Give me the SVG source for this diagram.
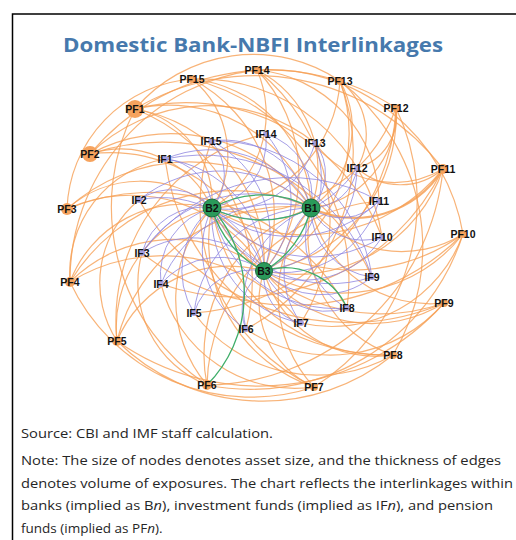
<svg xmlns="http://www.w3.org/2000/svg" width="516" height="540" viewBox="0 0 516 540">
<style>
.o{fill:none;stroke:#f6a056;stroke-width:1.2;stroke-opacity:.8}
.ot{fill:none;stroke:#f6a056;stroke-width:2.2;stroke-opacity:.85}
.p{fill:none;stroke:#8f86e0;stroke-width:1;stroke-opacity:.8}
.g{fill:none;stroke:#3fae6a;stroke-width:1.3}
.pf{fill:#f6a35e}
.if{fill:#a7a0e0}
.b{fill:#2a9a5a;stroke:#1d6e3e;stroke-width:1}
.lb{font-family:"Liberation Sans",Arial,sans-serif;font-weight:bold;font-size:10.5px;fill:#111;text-anchor:middle}
.ft{font-family:"Open Sans","Noto Sans",sans-serif;font-size:13.5px;fill:#262626}
</style>
<rect width="516" height="540" fill="#fff"/>
<path d="M12.5 540V14H516" fill="none" stroke="#000" stroke-width="1.5"/>
<text x="63" y="51.5" font-family="'Open Sans','Noto Sans',sans-serif" font-weight="700" font-size="20" fill="#4679ad" textLength="380" lengthAdjust="spacingAndGlyphs">Domestic Bank-NBFI Interlinkages</text>
<g id="edges">
<g id="orange-edges">
<path class="o" d="M135 109A150 150 0 0 1 311 208"/>
<path class="o" d="M135 109A95 95 0 0 1 212 208"/>
<path class="o" d="M135 109A155 155 0 0 1 264 271"/>
<path class="o" d="M135 109A210 210 0 0 1 382 237"/>
<path class="o" d="M135 109A155 155 0 0 1 340 81"/>
<path class="o" d="M135 109A185 185 0 0 1 246 329"/>
<path class="o" d="M135 109A235 235 0 0 1 443 169"/>
<path class="o" d="M90 154A100 100 0 0 1 212 208"/>
<path class="o" d="M90 154A170 170 0 0 1 311 208"/>
<path class="o" d="M90 154A158 158 0 0 1 264 271"/>
<path class="o" d="M90 154A230 230 0 0 1 372 277"/>
<path class="o" d="M90 154A232 232 0 0 1 396 108"/>
<path class="o" d="M90 154A170 170 0 0 1 315 143"/>
<path class="o" d="M67 209A110 110 0 0 1 212 208"/>
<path class="o" d="M67 209A183 183 0 0 1 311 208"/>
<path class="o" d="M67 209A155 155 0 0 1 264 271"/>
<path class="o" d="M67 209A223 223 0 0 1 347 308"/>
<path class="o" d="M67 209A135 135 0 0 1 192 79"/>
<path class="o" d="M70 282A120 120 0 0 1 212 208"/>
<path class="o" d="M70 282A146 146 0 0 1 264 271"/>
<path class="o" d="M70 282A189 189 0 0 1 311 208"/>
<path class="o" d="M70 282A116 116 0 0 1 165 159"/>
<path class="o" d="M70 282A212 212 0 0 1 257 70"/>
<path class="o" d="M70 282A176 176 0 0 1 301 323"/>
<path class="o" d="M117 341A122 122 0 0 1 212 208"/>
<path class="o" d="M117 341A122 122 0 0 1 264 271"/>
<path class="o" d="M117 341A176 176 0 0 1 311 208"/>
<path class="o" d="M117 341A107 107 0 0 1 139 200"/>
<path class="o" d="M117 341A191 191 0 0 1 266 134"/>
<path class="o" d="M444 303A247 247 0 0 1 117 341"/>
<path class="o" d="M207 385A133 133 0 0 1 212 208"/>
<path class="o" d="M207 385A154 154 0 0 1 311 208"/>
<path class="o" d="M207 385A110 110 0 0 1 142 253"/>
<path class="o" d="M207 385A214 214 0 0 1 135 109"/>
<path class="o" d="M207 385A189 189 0 0 1 379 201"/>
<path class="o" d="M314 387A95 95 0 0 1 264 271"/>
<path class="o" d="M314 387A155 155 0 0 1 212 208"/>
<path class="o" d="M314 387A134 134 0 0 1 311 208"/>
<path class="o" d="M314 387A138 138 0 0 1 161 284"/>
<path class="o" d="M314 387A200 200 0 0 1 70 282"/>
<path class="o" d="M314 387A200 200 0 0 1 211 141"/>
<path class="o" d="M393 355A116 116 0 0 1 264 271"/>
<path class="o" d="M393 355A126 126 0 0 1 311 208"/>
<path class="o" d="M393 355A175 175 0 0 1 212 208"/>
<path class="o" d="M393 355A153 153 0 0 1 194 313"/>
<path class="o" d="M393 355A207 207 0 0 1 117 341"/>
<path class="o" d="M393 355A225 225 0 0 1 165 159"/>
<path class="o" d="M444 303A122 122 0 0 1 311 208"/>
<path class="o" d="M444 303A137 137 0 0 1 264 271"/>
<path class="o" d="M444 303A188 188 0 0 1 212 208"/>
<path class="o" d="M444 303A150 150 0 0 1 246 329"/>
<path class="o" d="M444 303A241 241 0 0 1 139 200"/>
<path class="o" d="M463 234A116 116 0 0 1 311 208"/>
<path class="o" d="M463 234A152 152 0 0 1 264 271"/>
<path class="o" d="M463 234A189 189 0 0 1 212 208"/>
<path class="o" d="M463 234A139 139 0 0 1 301 323"/>
<path class="o" d="M463 234A241 241 0 0 1 142 253"/>
<path class="o" d="M463 234A223 223 0 0 1 207 385"/>
<path class="ot" d="M443 169A104 104 0 0 1 311 208"/>
<path class="o" d="M443 169A155 155 0 0 1 264 271"/>
<path class="o" d="M443 169A176 176 0 0 1 212 208"/>
<path class="o" d="M443 169A65 65 0 0 1 357 168"/>
<path class="o" d="M443 169A98 98 0 0 1 315 143"/>
<path class="o" d="M443 169A240 240 0 0 1 207 385"/>
<path class="o" d="M443 169A229 229 0 0 1 161 284"/>
<path class="o" d="M396 108A98 98 0 0 1 311 208"/>
<path class="o" d="M396 108A157 157 0 0 1 264 271"/>
<path class="o" d="M396 108A157 157 0 0 1 212 208"/>
<path class="o" d="M396 108A54 54 0 0 1 357 168"/>
<path class="o" d="M396 108A216 216 0 0 1 194 313"/>
<path class="o" d="M396 108A218 218 0 0 1 314 387"/>
<path class="o" d="M340 81A98 98 0 0 1 311 208"/>
<path class="o" d="M340 81A135 135 0 0 1 212 208"/>
<path class="o" d="M340 81A154 154 0 0 1 264 271"/>
<path class="o" d="M340 81A67 67 0 0 1 357 168"/>
<path class="o" d="M340 81A199 199 0 0 1 246 329"/>
<path class="o" d="M340 81A209 209 0 0 1 393 355"/>
<path class="o" d="M257 70A111 111 0 0 1 311 208"/>
<path class="o" d="M257 70A109 109 0 0 1 212 208"/>
<path class="o" d="M257 70A151 151 0 0 1 264 271"/>
<path class="o" d="M257 70A134 134 0 0 1 379 201"/>
<path class="o" d="M257 70A193 193 0 0 1 301 323"/>
<path class="o" d="M257 70A197 197 0 0 1 463 234"/>
<path class="o" d="M192 79A98 98 0 0 1 212 208"/>
<path class="o" d="M192 79A132 132 0 0 1 311 208"/>
<path class="o" d="M192 79A154 154 0 0 1 264 271"/>
<path class="o" d="M192 79A185 185 0 0 1 382 237"/>
<path class="o" d="M192 79A207 207 0 0 1 347 308"/>
</g>
<g id="purple-edges">
<path class="p" d="M165 159A51 51 0 0 1 212 208"/>
<path class="p" d="M165 159A116 116 0 0 1 311 208"/>
<path class="p" d="M165 159A112 112 0 0 1 264 271"/>
<path class="p" d="M165 159A179 179 0 0 1 372 277"/>
<path class="p" d="M139 200A55 55 0 0 1 212 208"/>
<path class="p" d="M139 200A129 129 0 0 1 311 208"/>
<path class="p" d="M139 200A108 108 0 0 1 264 271"/>
<path class="p" d="M142 253A62 62 0 0 1 212 208"/>
<path class="p" d="M142 253A93 93 0 0 1 264 271"/>
<path class="p" d="M142 253A131 131 0 0 1 311 208"/>
<path class="p" d="M142 253A182 182 0 0 1 379 201"/>
<path class="p" d="M161 284A69 69 0 0 1 212 208"/>
<path class="p" d="M161 284A78 78 0 0 1 264 271"/>
<path class="p" d="M161 284A126 126 0 0 1 311 208"/>
<path class="p" d="M194 313A80 80 0 0 1 212 208"/>
<path class="p" d="M194 313A61 61 0 0 1 264 271"/>
<path class="p" d="M194 313A118 118 0 0 1 311 208"/>
<path class="p" d="M246 329A46 46 0 0 1 264 271"/>
<path class="p" d="M246 329A94 94 0 0 1 212 208"/>
<path class="p" d="M246 329A103 103 0 0 1 311 208"/>
<path class="p" d="M301 323A48 48 0 0 1 264 271"/>
<path class="p" d="M301 323A87 87 0 0 1 311 208"/>
<path class="p" d="M301 323A109 109 0 0 1 212 208"/>
<path class="p" d="M347 308A68 68 0 0 1 264 271"/>
<path class="p" d="M347 308A80 80 0 0 1 311 208"/>
<path class="p" d="M347 308A126 126 0 0 1 212 208"/>
<path class="p" d="M372 277A69 69 0 0 1 311 208"/>
<path class="p" d="M372 277A81 81 0 0 1 264 271"/>
<path class="p" d="M372 277A131 131 0 0 1 212 208"/>
<path class="p" d="M382 237A58 58 0 0 1 311 208"/>
<path class="p" d="M382 237A92 92 0 0 1 264 271"/>
<path class="p" d="M382 237A129 129 0 0 1 212 208"/>
<path class="p" d="M379 201A51 51 0 0 1 311 208"/>
<path class="p" d="M379 201A101 101 0 0 1 264 271"/>
<path class="p" d="M379 201A125 125 0 0 1 212 208"/>
<path class="p" d="M357 168A46 46 0 0 1 311 208"/>
<path class="p" d="M357 168A113 113 0 0 1 212 208"/>
<path class="p" d="M357 168A104 104 0 0 1 264 271"/>
<path class="p" d="M315 143A49 49 0 0 1 311 208"/>
<path class="p" d="M315 143A91 91 0 0 1 212 208"/>
<path class="p" d="M315 143A103 103 0 0 1 264 271"/>
<path class="p" d="M266 134A69 69 0 0 1 212 208"/>
<path class="p" d="M266 134A65 65 0 0 1 311 208"/>
<path class="p" d="M266 134A103 103 0 0 1 264 271"/>
<path class="p" d="M211 141A50 50 0 0 1 212 208"/>
<path class="p" d="M211 141A90 90 0 0 1 311 208"/>
<path class="p" d="M211 141A105 105 0 0 1 264 271"/>
<path class="p" d="M211 141A158 158 0 0 1 372 277"/>
</g>
<g id="green-edges">
<path class="g" d="M212 208A100 100 0 0 1 311 208"/>
<path class="g" d="M311 208A108 108 0 0 1 212 208"/>
<path class="g" d="M212 208A100 100 0 0 0 264 271"/>
<path class="g" d="M311 208A100 100 0 0 1 264 271"/>
<path class="g" d="M264 271A68 68 0 0 1 347 308"/>
<path class="g" d="M207 385A130 130 0 0 0 212 208"/>
</g>
</g>
<g id="PF1"><circle class="pf" cx="135" cy="109" r="9"/><text class="lb" x="135" y="112.5">PF1</text></g>
<g id="PF2"><circle class="pf" cx="90" cy="154" r="8"/><text class="lb" x="90" y="157.5">PF2</text></g>
<g id="PF3"><circle class="pf" cx="67" cy="209" r="6"/><text class="lb" x="67" y="212.5">PF3</text></g>
<g id="PF4"><circle class="pf" cx="70" cy="282" r="5"/><text class="lb" x="70" y="285.5">PF4</text></g>
<g id="PF5"><circle class="pf" cx="117" cy="341" r="5"/><text class="lb" x="117" y="344.5">PF5</text></g>
<g id="PF6"><circle class="pf" cx="207" cy="385" r="5"/><text class="lb" x="207" y="388.5">PF6</text></g>
<g id="PF7"><circle class="pf" cx="314" cy="387" r="4"/><text class="lb" x="314" y="390.5">PF7</text></g>
<g id="PF8"><circle class="pf" cx="393" cy="355" r="4"/><text class="lb" x="393" y="358.5">PF8</text></g>
<g id="PF9"><circle class="pf" cx="444" cy="303" r="4"/><text class="lb" x="444" y="306.5">PF9</text></g>
<g id="PF10"><circle class="pf" cx="463" cy="234" r="4"/><text class="lb" x="463" y="237.5">PF10</text></g>
<g id="PF11"><circle class="pf" cx="443" cy="169" r="5"/><text class="lb" x="443" y="172.5">PF11</text></g>
<g id="PF12"><circle class="pf" cx="396" cy="108" r="4"/><text class="lb" x="396" y="111.5">PF12</text></g>
<g id="PF13"><circle class="pf" cx="340" cy="81" r="4"/><text class="lb" x="340" y="84.5">PF13</text></g>
<g id="PF14"><circle class="pf" cx="257" cy="70" r="4"/><text class="lb" x="257" y="73.5">PF14</text></g>
<g id="PF15"><circle class="pf" cx="192" cy="79" r="4"/><text class="lb" x="192" y="82.5">PF15</text></g>
<g id="IF1"><circle class="if" cx="165" cy="159" r="3"/><text class="lb" x="165" y="162.5">IF1</text></g>
<g id="IF2"><circle class="if" cx="139" cy="200" r="3"/><text class="lb" x="139" y="203.5">IF2</text></g>
<g id="IF3"><circle class="if" cx="142" cy="253" r="3"/><text class="lb" x="142" y="256.5">IF3</text></g>
<g id="IF4"><circle class="if" cx="161" cy="284" r="3"/><text class="lb" x="161" y="287.5">IF4</text></g>
<g id="IF5"><circle class="if" cx="194" cy="313" r="3"/><text class="lb" x="194" y="316.5">IF5</text></g>
<g id="IF6"><circle class="if" cx="246" cy="329" r="3"/><text class="lb" x="246" y="332.5">IF6</text></g>
<g id="IF7"><circle class="if" cx="301" cy="323" r="3"/><text class="lb" x="301" y="326.5">IF7</text></g>
<g id="IF8"><circle class="if" cx="347" cy="308" r="3"/><text class="lb" x="347" y="311.5">IF8</text></g>
<g id="IF9"><circle class="if" cx="372" cy="277" r="3"/><text class="lb" x="372" y="280.5">IF9</text></g>
<g id="IF10"><circle class="if" cx="382" cy="237" r="3"/><text class="lb" x="382" y="240.5">IF10</text></g>
<g id="IF11"><circle class="if" cx="379" cy="201" r="3"/><text class="lb" x="379" y="204.5">IF11</text></g>
<g id="IF12"><circle class="if" cx="357" cy="168" r="3"/><text class="lb" x="357" y="171.5">IF12</text></g>
<g id="IF13"><circle class="if" cx="315" cy="143" r="3"/><text class="lb" x="315" y="146.5">IF13</text></g>
<g id="IF14"><circle class="if" cx="266" cy="134" r="3"/><text class="lb" x="266" y="137.5">IF14</text></g>
<g id="IF15"><circle class="if" cx="211" cy="141" r="3"/><text class="lb" x="211" y="144.5">IF15</text></g>
<g id="B1"><circle class="b" cx="311" cy="208" r="9"/><text class="lb" x="311" y="211.5">B1</text></g>
<g id="B2"><circle class="b" cx="212" cy="208" r="9"/><text class="lb" x="212" y="211.5">B2</text></g>
<g id="B3"><circle class="b" cx="264" cy="271" r="8.5"/><text class="lb" x="264" y="274.5">B3</text></g>
<g id="footer">
<text class="ft" x="21" y="438" textLength="252" lengthAdjust="spacingAndGlyphs">Source: CBI and IMF staff calculation.</text>
<text class="ft" x="21" y="465" textLength="480" lengthAdjust="spacingAndGlyphs">Note: The size of nodes denotes asset size, and the thickness of edges</text>
<text class="ft" x="21" y="487.5" textLength="492" lengthAdjust="spacingAndGlyphs">denotes volume of exposures.  The chart reflects the interlinkages within</text>
<text class="ft" x="21" y="510" textLength="472" lengthAdjust="spacingAndGlyphs">banks (implied as B<tspan font-style="italic">n</tspan>), investment funds (implied as IF<tspan font-style="italic">n</tspan>), and pension</text>
<text class="ft" x="21" y="532.5">funds (implied as PF<tspan font-style="italic">n</tspan>).</text>
</g>
</svg>
